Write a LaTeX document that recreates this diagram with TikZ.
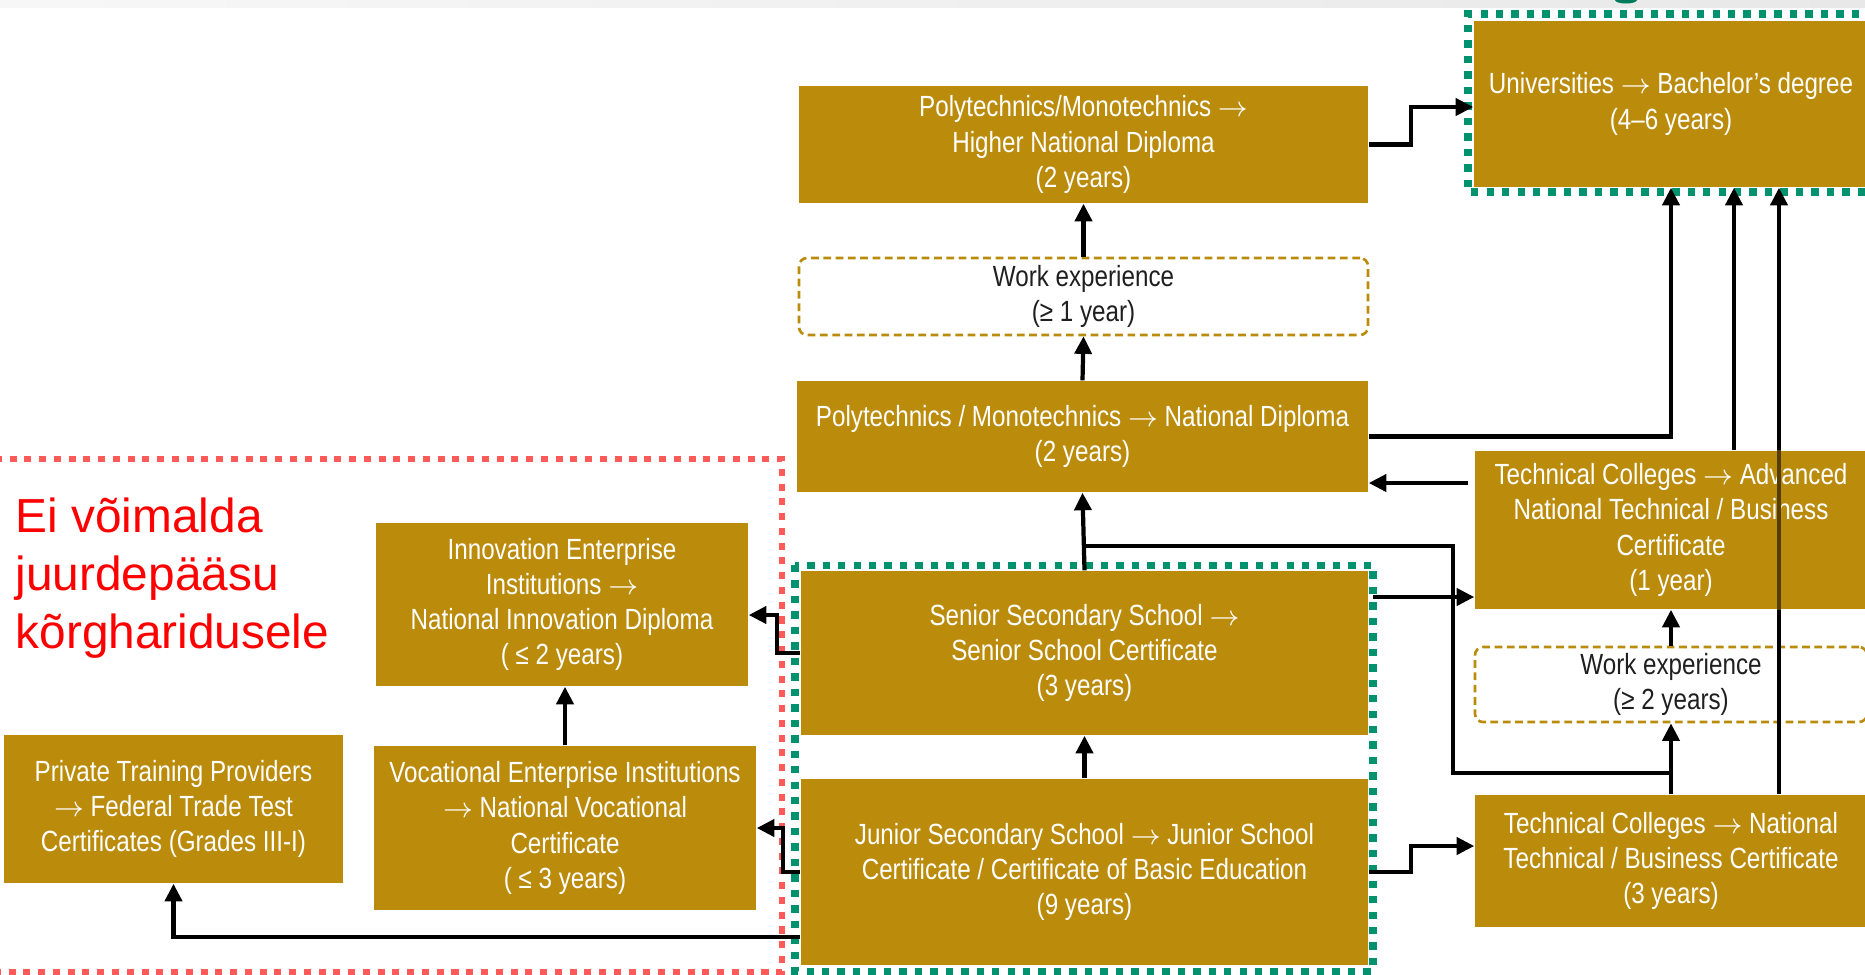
\documentclass[tikz,border=0pt]{standalone}
\usepackage{fontspec}
\setmainfont{Liberation Sans}
\newfontfamily\narrowfont{Liberation Sans}[FakeStretch=0.83]
\usetikzlibrary{arrows.meta}
\definecolor{gold}{RGB}{187,139,12}
\definecolor{tealg}{RGB}{0,145,110}
\definecolor{salmon}{RGB}{255,90,90}
\newcommand\myarr{\ensuremath{\rightarrow}}
\begin{document}
\begin{tikzpicture}[x=0.1mm,y=-0.1mm,
  box/.style={fill=gold, text=white, align=center, inner sep=0pt,
    font=\narrowfont\fontsize{8.3}{10}\selectfont},
  wexp/.style={draw=gold, line width=0.75pt, dash pattern=on 2.2pt off 1.3pt,
    rounded corners=0.8mm, fill=white, text=black!88, align=center, inner sep=0pt,
    font=\narrowfont\fontsize{8.3}{10}\selectfont},
  arr/.style={draw=black, line width=1.2pt, -{Triangle[length=5pt,width=4.8pt]}},
  plainline/.style={draw=black, line width=1.2pt},
  greenb/.style={draw=tealg, line width=2pt, dash pattern=on 2.1pt off 2.3pt},
  redb/.style={draw=salmon, line width=1.7pt, dash pattern=on 2pt off 2.2pt},
]
\useasboundingbox (0,0) rectangle (1865,974);
\clip (0,0) rectangle (1865,974);
\shade[left color=black!3, right color=black!9] (0,0) rectangle (1865,7);
\fill[tealg!85!black] (1626,0) ellipse [x radius=11, y radius=3.5];

% boxes
\node[box, minimum width=56.9mm, minimum height=11.7mm] (hnd) at (1083.5,144.5)
  {Polytechnics/Monotechnics \myarr\\Higher National Diploma\\(2 years)};
\node[wexp, minimum width=56.9mm, minimum height=7.7mm] (we1) at (1083.5,296.5)
  {Work experience\\(≥ 1 year)};
\node[box, minimum width=57.1mm, minimum height=11.1mm] (nd) at (1082.5,436.5)
  {Polytechnics / Monotechnics \myarr{} National Diploma\\(2 years)};
\node[box, minimum width=39.4mm, minimum height=16.6mm] (univ) at (1671,104)
  {Universities \myarr{} Bachelor’s degree\\(4–6 years)};
\node[box, minimum width=39.2mm, minimum height=15.8mm] (tca) at (1671,530)
  {Technical Colleges \myarr{} Advanced\\National Technical / Business\\Certificate\\(1 year)};
\node[wexp, minimum width=39.2mm, minimum height=7.5mm] (we2) at (1671,684.5)
  {Work experience\\(≥ 2 years)};
\node[box, minimum width=39.2mm, minimum height=13.2mm] (tcn) at (1671,861)
  {Technical Colleges \myarr{} National\\Technical / Business Certificate\\(3 years)};
\node[box, minimum width=56.7mm, minimum height=16.4mm] (sss) at (1084.5,653)
  {Senior Secondary School \myarr\\Senior School Certificate\\(3 years)};
\node[box, minimum width=56.7mm, minimum height=18.6mm] (jss) at (1084.5,872)
  {Junior Secondary School \myarr{} Junior School\\Certificate / Certificate of Basic Education\\(9 years)};
\node[box, minimum width=37.2mm, minimum height=16.3mm] (iei) at (562,604.5)
  {Innovation Enterprise\\Institutions \myarr\\National Innovation Diploma\\( ≤ 2 years)};
\node[box, minimum width=38.2mm, minimum height=16.4mm] (vei) at (565,828)
  {Vocational Enterprise Institutions\\\myarr{} National Vocational\\Certificate\\( ≤ 3 years)};
\node[box, minimum width=33.9mm, minimum height=14.8mm] (ptp) at (173.5,809)
  {Private Training Providers\\\myarr{} Federal Trade Test\\Certificates (Grades III-I)};

\node[anchor=north west, inner sep=0pt, align=left, text=red,
  font=\fontsize{13.6}{16.5}\selectfont] (lbl) at (15,497)
  {Ei võimalda\\juurdepääsu\\kõrgharidusele};

% group borders
\draw[redb] (-20,459) -- (782,459) -- (782,972) -- (-20,972);
\draw[greenb] (795,565) rectangle (1373,971);
\draw[greenb] (1890,14) -- (1468,14) -- (1468,192) -- (1890,192);

% connectors
\draw[arr] (nd.north) -- (we1.south);
\draw[arr] (we1.north) -- (hnd.south);
\draw[arr] (hnd.east) -- ++(42,0) |- ([yshift=-0.3mm]univ.west);
\draw[arr] (nd.east) -| (univ.south);
\draw[arr] ([xshift=6.3mm]tca.north) -- ([xshift=6.3mm]univ.south);
\draw[arr] ([xshift=10.8mm]tcn.north) -- ([xshift=10.8mm]univ.south);
\begin{scope}
  \clip (tca.south west) rectangle (tca.north east);
  \draw[line width=1.2pt, gold!45!black] ([xshift=10.8mm]tcn.north) -- ([xshift=10.8mm]univ.south);
\end{scope}
\coordinate (a1) at ([yshift=4.7mm]tca.west);
\draw[arr] ([xshift=-0.6mm]a1) -- (a1 -| nd.east);
\coordinate (a2) at ([yshift=5.6mm]sss.east);
\draw[arr] ([xshift=0.4mm]a2) -- (a2 -| tca.west);
\draw[arr] (we2.north) -- (tca.south);
\draw[arr] (tcn.north) -- (we2.south);
\draw[arr] (jss.north) -- (sss.south);
\draw[arr] (sss.north) -- (nd.south);
\coordinate (j1) at (1084,546);
\coordinate (j2) at (1453,773);
\draw[plainline] (j1) -| (j2) -- (j2 -| we2.south);
\draw[arr] (jss.east) -- ++(42,0) |- ([yshift=1.5mm]tcn.west);
\draw[arr] (sss.west) -- ++(-23,0) |- ([yshift=-1.05mm]iei.east);
\draw[arr] (jss.west) -- ++(-17,0) |- (vei.east);
\draw[arr] ([yshift=-6.5mm]jss.west) -| (ptp.south);
\draw[arr] (vei.north) -- (vei.north |- iei.south);
\end{tikzpicture}
\end{document}
